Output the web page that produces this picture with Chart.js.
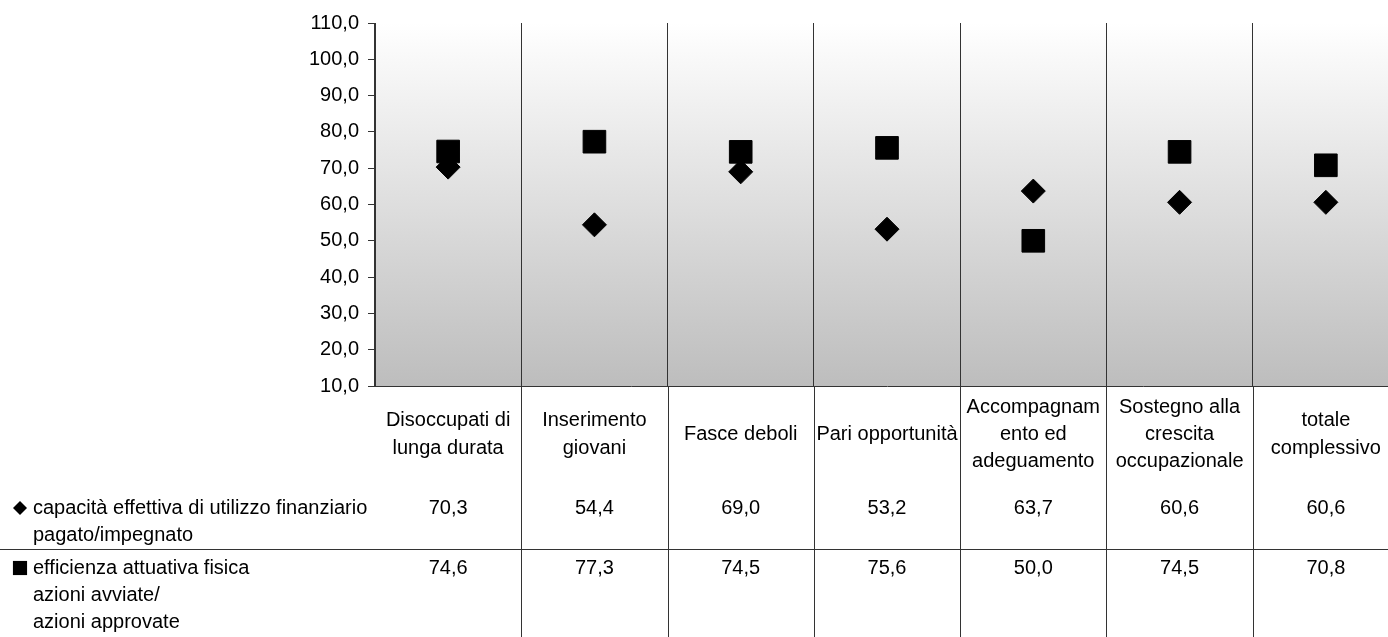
<!DOCTYPE html>
<html>
<head>
<meta charset="utf-8">
<script src="https://cdn.jsdelivr.net/npm/chart.js@4.4.1/dist/chart.umd.min.js"></script>
<style>
  html, body { margin: 0; padding: 0; background: #fff; overflow: hidden; }
  #grafico { display: block; }
</style>
</head>
<body>
<canvas id="grafico" width="1400" height="637"></canvas>
<script>
// dati
const categorie = [
  ['Disoccupati di', 'lunga durata'],
  ['Inserimento', 'giovani'],
  'Fasce deboli',
  'Pari opportunità',
  ['Accompagnam', 'ento ed', 'adeguamento'],
  ['Sostegno alla', 'crescita', 'occupazionale'],
  ['totale', 'complessivo']
];
const capacita = [70.3, 54.4, 69.0, 53.2, 63.7, 60.6, 60.6];
const efficienza = [74.6, 77.3, 74.5, 75.6, 50.0, 74.5, 70.8];
const etichettaCapacita = ['capacità effettiva di utilizzo finanziario', 'pagato/impegnato'];
const etichettaEfficienza = ['efficienza attuativa fisica', 'azioni avviate/', 'azioni approvate'];
const yMin = 10, yMax = 110, yPasso = 10;

const FONT = '"Liberation Sans", Arial, sans-serif';
const fmt = v => v.toFixed(1).replace('.', ',');

// sfondo sfumato + tabella dati sotto l'asse
const tabella = {
  id: 'tabella',
  beforeDraw(chart) {
    const { ctx, chartArea: a } = chart;
    const g = ctx.createLinearGradient(0, a.top, 0, a.bottom);
    g.addColorStop(0, '#ffffff');
    g.addColorStop(1, '#bdbdbd');
    ctx.save();
    ctx.fillStyle = g;
    ctx.fillRect(a.left, a.top, a.right - a.left, a.bottom - a.top);
    ctx.restore();
  },
  afterDraw(chart) {
    const { ctx, chartArea: a, scales: { x } } = chart;
    const H = chart.height;
    const w = (x.right - x.left) / categorie.length;
    ctx.save();
    ctx.strokeStyle = '#333';
    ctx.lineWidth = 1;
    ctx.beginPath();
    for (let i = 1; i <= categorie.length; i++) {
      const px = Math.round(x.left + i * w) + 0.5;
      ctx.moveTo(px, a.bottom);
      ctx.lineTo(px, H);
    }
    const yRiga = Math.round(a.bottom + 163) + 0.5;
    ctx.moveTo(0, yRiga);
    ctx.lineTo(chart.width, yRiga);
    ctx.stroke();

    ctx.font = '20px ' + FONT;
    ctx.fillStyle = '#000';
    ctx.textBaseline = 'middle';
    const riga1 = a.bottom + 122, riga2 = a.bottom + 182, lh = 27;

    // intestazioni di riga con simbolo
    ctx.textAlign = 'left';
    Chart.helpers.drawPoint(ctx, { pointStyle: 'rectRot', radius: 7, borderWidth: 0 }, 20, riga1);
    Chart.helpers.drawPoint(ctx, { pointStyle: 'rect', radius: 10, borderWidth: 0 }, 20, riga2);
    ctx.fillStyle = '#000';
    etichettaCapacita.forEach((t, j) => ctx.fillText(t, 33, riga1 + j * lh));
    etichettaEfficienza.forEach((t, j) => ctx.fillText(t, 33, riga2 + j * lh));

    // valori
    ctx.textAlign = 'center';
    categorie.forEach((c, i) => {
      const cx = x.getPixelForValue(i);
      ctx.fillText(fmt(capacita[i]), cx, riga1);
      ctx.fillText(fmt(efficienza[i]), cx, riga2);
    });
    ctx.restore();
  }
};

new Chart(document.getElementById('grafico'), {
  type: 'line',
  data: {
    labels: categorie,
    datasets: [
      {
        label: etichettaCapacita.join(' '),
        data: capacita,
        showLine: false,
        pointStyle: 'rectRot',
        pointRadius: 12,
        pointBackgroundColor: '#000',
        pointBorderColor: '#000',
        pointBorderWidth: 1,
        order: 1
      },
      {
        label: etichettaEfficienza.join(' '),
        data: efficienza,
        showLine: false,
        pointStyle: 'rect',
        pointRadius: 16,
        pointBackgroundColor: '#000',
        pointBorderColor: '#000',
        pointBorderWidth: 1,
        order: 0
      }
    ]
  },
  options: {
    responsive: false,
    devicePixelRatio: 1,
    animation: false,
    layout: { autoPadding: false, padding: { top: 23, right: 1, left: 0, bottom: 0 } },
    plugins: { legend: { display: false }, tooltip: { enabled: false } },
    scales: {
      x: {
        offset: true,
        grid: { offset: true, color: '#333', drawTicks: false },
        border: { display: true, color: '#333' },
        ticks: {
          color: '#000',
          font: { family: FONT, size: 20, lineHeight: 1.37 },
          maxRotation: 0,
          autoSkip: false,
          padding: 21,
          crossAlign: 'center'
        },
        afterFit(s) { s.height = 251; s.paddingLeft = 0; s.paddingRight = 0; }
      },
      y: {
        min: yMin,
        max: yMax,
        grid: { drawOnChartArea: false, drawTicks: true, tickLength: 7, color: '#333' },
        border: { display: true, color: '#333' },
        ticks: {
          stepSize: yPasso,
          color: '#000',
          padding: 9,
          font: { family: FONT, size: 20 },
          callback: v => fmt(v)
        },
        afterFit(s) { s.width = 375; }
      }
    }
  },
  plugins: [tabella]
});
</script>
</body>
</html>
